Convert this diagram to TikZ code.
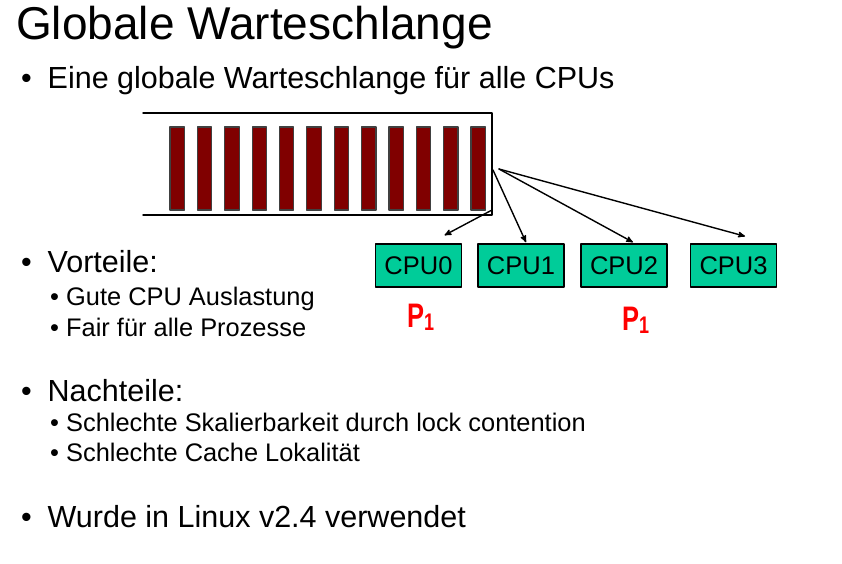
\documentclass[tikz,border=0pt]{standalone}
\usepackage{fontspec}
\setmainfont{Liberation Sans}
\newfontfamily\handfont[FakeStretch=0.75]{Liberation Sans}
\usetikzlibrary{arrows}
\definecolor{xdqqqq}{rgb}{0.5,0.,0.}
\definecolor{qqzzww}{rgb}{0.,0.8,0.6}
\definecolor{ffqqqq}{rgb}{1.,0.,0.}
\definecolor{wwwwww}{rgb}{0.25,0.25,0.25}
\begin{document}
\begin{tikzpicture}[line cap=round,line join=round,>=stealth',x=1pt,y=-1pt,
  head/.style={anchor=base west,inner sep=0pt,font=\fontsize{46}{46}\selectfont},
  item/.style={anchor=base west,inner sep=0pt,font=\fontsize{30.5}{30.5}\selectfont},
  subitem/.style={anchor=base west,inner sep=0pt,font=\fontsize{25.4}{25.4}\selectfont},
  qline/.style={line width=1.5pt},
  bar/.style={fill=xdqqqq,draw=wwwwww,line width=1.2pt},
  arr/.style={->,line width=1.4pt},
  cpu/.style={draw,line width=1.5pt,fill=qqzzww,minimum width=86pt,minimum height=43pt,inner sep=0pt,font=\fontsize{25.5}{25.5}\selectfont},
  note/.style={color=ffqqqq,anchor=base west,inner sep=0pt,font=\handfont\bfseries\fontsize{34}{34}\selectfont}]
\useasboundingbox (0,0) rectangle (842,563);
\node[head] (title) at (16,39) {Globale Warteschlange};
\node[item,anchor=base] (b1) at (26.5,88) {•};
\node[item] (t1) at (47.5,88) {Eine globale Warteschlange für alle CPUs};
\node[item,anchor=base] (b2) at (26.5,272) {•};
\node[item] (t2) at (47.5,272) {Vorteile:};
\node[subitem,anchor=base] (b21) at (54.5,305) {•};
\node[subitem] (t21) at (66,305) {Gute CPU Auslastung};
\node[subitem,anchor=base] (b22) at (54.5,336) {•};
\node[subitem] (t22) at (66,336) {Fair für alle Prozesse};
\node[item,anchor=base] (b3) at (26.5,401) {•};
\node[item] (t3) at (47.5,401) {Nachteile:};
\node[subitem,anchor=base] (b31) at (54.5,431) {•};
\node[subitem] (t31) at (66,431) {Schlechte Skalierbarkeit durch lock contention};
\node[subitem,anchor=base] (b32) at (54.5,461) {•};
\node[subitem] (t32) at (66,461) {Schlechte Cache Lokalität};
\node[item,anchor=base] (b4) at (26.5,527) {•};
\node[item] (t4) at (47.5,527) {Wurde in Linux v2.4 verwendet};
% queue
\draw [qline] (143.,113.) -- (492.,113.) -- (492.,215.) -- (143.,215.);
\draw [bar] (170.,127.) rectangle (184.4,210.);
\draw [bar] (197.4,127.) rectangle (211.8,210.);
\draw [bar] (224.7,127.) rectangle (239.1,210.);
\draw [bar] (252.1,127.) rectangle (266.5,210.);
\draw [bar] (279.4,127.) rectangle (293.8,210.);
\draw [bar] (306.8,127.) rectangle (321.2,210.);
\draw [bar] (334.2,127.) rectangle (348.6,210.);
\draw [bar] (361.5,127.) rectangle (375.9,210.);
\draw [bar] (388.9,127.) rectangle (403.3,210.);
\draw [bar] (416.2,127.) rectangle (430.6,210.);
\draw [bar] (443.6,127.) rectangle (458.,210.);
\draw [bar] (471.,127.) rectangle (485.4,210.);
% cpus
\node[cpu] (cpu0) at (418.5,265.5) {CPU0};
\node[cpu] (cpu1) at (521.,265.5) {CPU1};
\node[cpu] (cpu2) at (624.,265.5) {CPU2};
\node[cpu] (cpu3) at (733.5,265.5) {CPU3};
\coordinate (qlow) at (492.,210.);
\coordinate (qmid) at (493.,170.);
\coordinate (qtop) at (499.,169.);
\draw [arr] (qlow) -- ([xshift=26pt,yshift=8pt]cpu0.north);
\draw [arr] (qmid) -- ([xshift=5pt,yshift=1pt]cpu1.north);
\draw [arr] (qtop) -- ([xshift=9pt,yshift=1pt]cpu2.north);
\draw [arr] (qtop) -- ([xshift=11.5pt,yshift=7pt]cpu3.north);
% handwritten marks
\node[note] (p1) at (407.,327.) {P\raisebox{-3pt}{\fontsize{24}{24}\selectfont 1}};
\node[note] (p2) at (622.,330.) {P\raisebox{-3pt}{\fontsize{24}{24}\selectfont 1}};
\end{tikzpicture}
\end{document}
